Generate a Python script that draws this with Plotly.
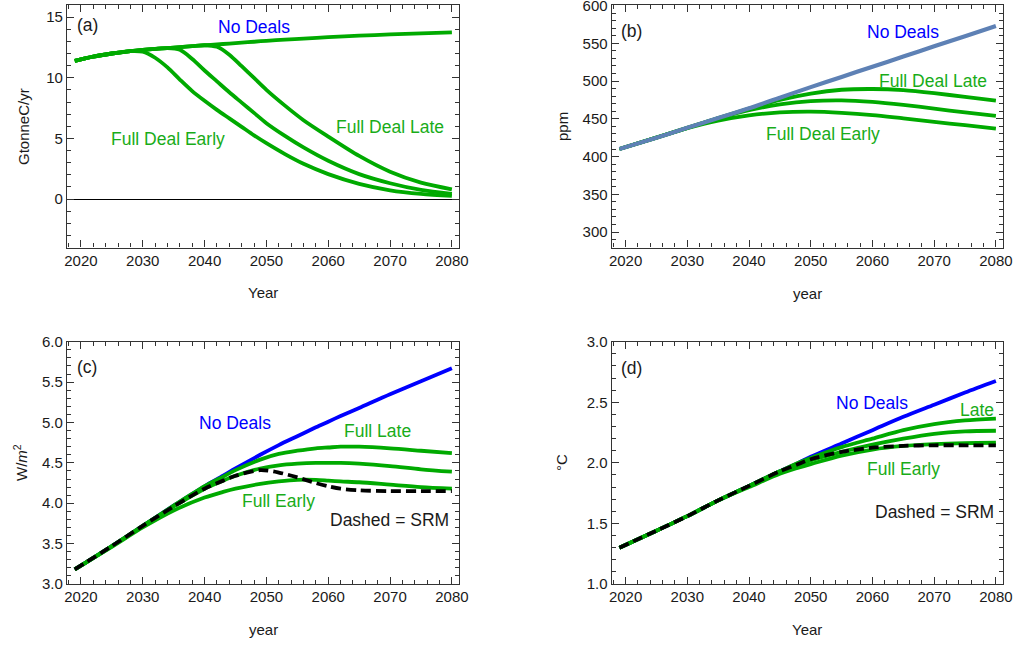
import plotly.graph_objects as go

# ---------------- data ----------------
# (a) emissions, GtC/yr
years_a = [2019, 2022, 2025, 2028, 2030, 2032, 2034, 2036, 2038, 2040, 2042, 2044,
           2046, 2048, 2050, 2053, 2056, 2060, 2065, 2070, 2075, 2080]
emis_none = [11.4, 11.75, 12.0, 12.2, 12.3, 12.38, 12.45, 12.52, 12.6, 12.68, 12.75, 12.82,
             12.9, 12.97, 13.05, 13.14, 13.23, 13.35, 13.47, 13.57, 13.66, 13.75]
emis_early = [11.4, 11.75, 12.0, 12.2, 12.15, 11.65, 10.85, 9.85, 8.9, 8.1, 7.35, 6.65,
              5.95, 5.25, 4.6, 3.7, 2.9, 2.05, 1.25, 0.72, 0.42, 0.25]
emis_mid = [11.4, 11.75, 12.0, 12.2, 12.3, 12.38, 12.44, 12.3, 11.55, 10.6, 9.7, 8.8,
            7.95, 7.1, 6.25, 5.2, 4.25, 3.15, 2.05, 1.3, 0.75, 0.42]
emis_late = [11.4, 11.75, 12.0, 12.2, 12.3, 12.38, 12.45, 12.52, 12.6, 12.68, 12.55, 11.9,
             10.95, 9.98, 9.0, 7.7, 6.5, 5.15, 3.55, 2.25, 1.35, 0.8]

# (b) CO2 concentration, ppm
years_b = [2019, 2025, 2030, 2035, 2040, 2045, 2050, 2055, 2060, 2065, 2070, 2075, 2080]
ppm_none = [410, 425, 438, 451, 464, 478, 492, 505.5, 519, 532.5, 546, 559.5, 573]
ppm_late = [410, 425, 438, 451, 463.5, 475, 483.5, 488.5, 489.5, 488, 484, 479, 474]
ppm_mid = [410, 425, 438, 450.5, 461.5, 469, 473.5, 474.5, 472.5, 468.5, 463.5, 458.5, 454]
ppm_early = [410, 425, 437.5, 447.5, 454.5, 458.5, 459.5, 458, 455, 450.5, 446, 441.5, 437]

# (c) radiative forcing, W/m^2
years_c = [2019, 2025, 2030, 2035, 2040, 2043, 2045, 2049, 2052, 2055, 2058, 2060, 2062,
           2065, 2070, 2075, 2080]
rf_none = [3.18, 3.47, 3.72, 3.97, 4.21, 4.34, 4.43, 4.60, 4.72, 4.83, 4.94, 5.01, 5.08,
           5.18, 5.35, 5.51, 5.67]
rf_late = [3.18, 3.47, 3.72, 3.97, 4.21, 4.33, 4.41, 4.54, 4.61, 4.65, 4.68, 4.69, 4.70,
           4.70, 4.68, 4.65, 4.62]
rf_mid = [3.18, 3.47, 3.72, 3.96, 4.18, 4.28, 4.34, 4.43, 4.47, 4.49, 4.50, 4.50, 4.50,
          4.49, 4.46, 4.42, 4.39]
rf_early = [3.18, 3.46, 3.70, 3.91, 4.07, 4.14, 4.18, 4.24, 4.27, 4.29, 4.29, 4.28, 4.27,
            4.26, 4.23, 4.20, 4.18]
rf_srm = [3.18, 3.47, 3.72, 3.96, 4.18, 4.28, 4.34, 4.41, 4.38, 4.32, 4.25, 4.21, 4.18,
          4.16, 4.15, 4.15, 4.15]

# (d) temperature change, degC
years_d = [2019, 2025, 2030, 2035, 2040, 2045, 2048, 2050, 2055, 2060, 2065, 2070, 2075, 2080]
temp_none = [1.30, 1.44, 1.56, 1.69, 1.81, 1.93, 2.00, 2.05, 2.16, 2.27, 2.38, 2.48, 2.58, 2.675]
temp_late = [1.30, 1.44, 1.56, 1.69, 1.81, 1.93, 2.00, 2.04, 2.13, 2.20, 2.27, 2.32, 2.35, 2.365]
temp_mid = [1.30, 1.44, 1.56, 1.69, 1.81, 1.93, 1.98, 2.02, 2.09, 2.15, 2.20, 2.24, 2.26, 2.265]
temp_early = [1.30, 1.44, 1.56, 1.69, 1.80, 1.91, 1.96, 1.99, 2.06, 2.11, 2.14, 2.155, 2.163, 2.166]
temp_srm = [1.30, 1.44, 1.56, 1.69, 1.81, 1.93, 1.99, 2.03, 2.09, 2.125, 2.14, 2.145, 2.145, 2.145]

# ---------------- styling ----------------
GREEN = "#00AA00"
GREEN_TXT = "#19AC19"
BLUE = "#0000FF"
STEEL = "#5E81B5"
FRAME = "#333333"
FONT = "Liberation Sans, Arial, sans-serif"

fig = go.Figure()


def add_line(x, y, color, xa, ya, width=3.8, dash="solid"):
    fig.add_trace(go.Scatter(
        x=x, y=y, mode="lines", xaxis=xa, yaxis=ya, showlegend=False,
        line=dict(color=color, width=width, dash=dash, shape="spline", smoothing=0.8),
        hoverinfo="skip"))


# (a)
for ser in (emis_early, emis_mid, emis_late, emis_none):
    add_line(years_a, ser, GREEN, "x", "y")
# (b)
for ser in (ppm_early, ppm_mid, ppm_late):
    add_line(years_b, ser, GREEN, "x2", "y2")
add_line(years_b, ppm_none, STEEL, "x2", "y2", width=4.2)
# (c)
add_line(years_c, rf_none, BLUE, "x3", "y3")
for ser in (rf_late, rf_mid, rf_early):
    add_line(years_c, ser, GREEN, "x3", "y3")
add_line(years_c, rf_srm, "black", "x3", "y3", width=3.8, dash="10px,5px")
# (d)
add_line(years_d, temp_none, BLUE, "x4", "y4")
for ser in (temp_late, temp_mid, temp_early):
    add_line(years_d, ser, GREEN, "x4", "y4")
add_line(years_d, temp_srm, "black", "x4", "y4", width=3.8, dash="10px,5px")

W, H = 1019, 645
left_dom = [67 / W, 459 / W]
right_dom = [611.7 / W, 1003 / W]
top_dom = [1 - 247.5 / H, 1 - 5 / H]
bot_dom = [1 - 584 / H, 1 - 341.7 / H]

tickfont = dict(family=FONT, size=15, color="#1a1a1a")
MAJ_LEN, MIN_LEN, TW = 7, 4, 1.2


def xaxis(dom, anchor):
    return dict(domain=dom, anchor=anchor, range=[2017.75, 2081.15], automargin=False,
                tickmode="linear", tick0=2020, dtick=10, ticks="inside", ticklen=MAJ_LEN,
                tickcolor=FRAME, tickwidth=TW,
                minor=dict(dtick=2, tick0=2020, ticks="inside", ticklen=MIN_LEN,
                           tickcolor=FRAME, tickwidth=TW),
                showline=True, linecolor=FRAME, linewidth=1.2, mirror="allticks",
                showgrid=False, zeroline=False, tickfont=tickfont,
                ticklabelstandoff=-1)


def yaxis(dom, anchor, rng, dtick, mdtick, fmt=None, zeroline=False):
    d = dict(domain=dom, anchor=anchor, range=rng, automargin=False,
             tickmode="linear", tick0=0,
             dtick=dtick, ticks="inside", ticklen=MAJ_LEN, tickcolor=FRAME, tickwidth=TW,
             minor=dict(dtick=mdtick, tick0=0, ticks="inside", ticklen=MIN_LEN,
                        tickcolor=FRAME, tickwidth=TW),
             showline=True, linecolor=FRAME, linewidth=1.2, mirror="allticks",
             showgrid=False, zeroline=zeroline, zerolinecolor="black", zerolinewidth=1,
             tickfont=tickfont, ticklabeloverflow="allow")
    if fmt:
        d["tickformat"] = fmt
    return d


fig.update_layout(
    template="none",
    width=W, height=H, margin=dict(l=0, r=0, t=0, b=0, pad=0), autosize=False,
    paper_bgcolor="white", plot_bgcolor="rgba(0,0,0,0)",
    xaxis=xaxis(left_dom, "y"),
    yaxis=yaxis(top_dom, "x", [-4, 16], 5, 1, zeroline=True),
    xaxis2=xaxis(right_dom, "y2"),
    yaxis2=yaxis(top_dom, "x2", [279.5, 600.8], 50, 10),
    xaxis3=xaxis(left_dom, "y3"),
    yaxis3=yaxis(bot_dom, "x3", [3, 6], 0.5, 0.1, fmt=".1f"),
    xaxis4=xaxis(right_dom, "y4"),
    yaxis4=yaxis(bot_dom, "x4", [1, 3], 0.5, 0.1, fmt=".1f"),
)

ann = []


def label(x, y, text, color="#1a1a1a", size=17.5, angle=0):
    ann.append(dict(x=x / W, y=1 - y / H, xref="paper", yref="paper", text=text,
                    showarrow=False, xanchor="center", yanchor="middle", textangle=angle,
                    font=dict(family=FONT, size=size, color=color)))


# panel tags and curve labels
label(87.5, 25, "(a)")
label(254, 27, "No Deals", BLUE)
label(167.5, 139, "Full Deal Early", GREEN_TXT)
label(389.5, 127, "Full Deal Late", GREEN_TXT)

label(631, 31, "(b)")
label(903, 32, "No Deals", BLUE)
label(933, 81, "Full Deal Late", GREEN_TXT)
label(822.5, 134, "Full Deal Early", GREEN_TXT)

label(87, 367, "(c)")
label(235, 423, "No Deals", BLUE)
label(377, 431, "Full Late", GREEN_TXT)
label(278, 500.5, "Full Early", GREEN_TXT)
label(389.5, 520, "Dashed = SRM")

label(631.5, 367.5, "(d)")
label(872, 402.5, "No Deals", BLUE)
label(977, 410, "Late", GREEN_TXT)
label(903, 469, "Full Early", GREEN_TXT)
label(934, 512, "Dashed = SRM")

# axis titles
label(263, 292, "Year", size=15)
label(23, 127, "GtonneC/yr", size=15, angle=-90)
label(807, 293, "year", size=15)
label(562, 127, "ppm", size=15, angle=-90)
label(263, 629, "year", size=15)
label(20, 463, "W/<i>m</i><sup>2</sup>", size=15, angle=-90)
label(807, 629, "Year", size=15)
label(561, 463, "°C", size=15, angle=-90)

fig.update_layout(annotations=ann)

fig.write_html("out.html")
